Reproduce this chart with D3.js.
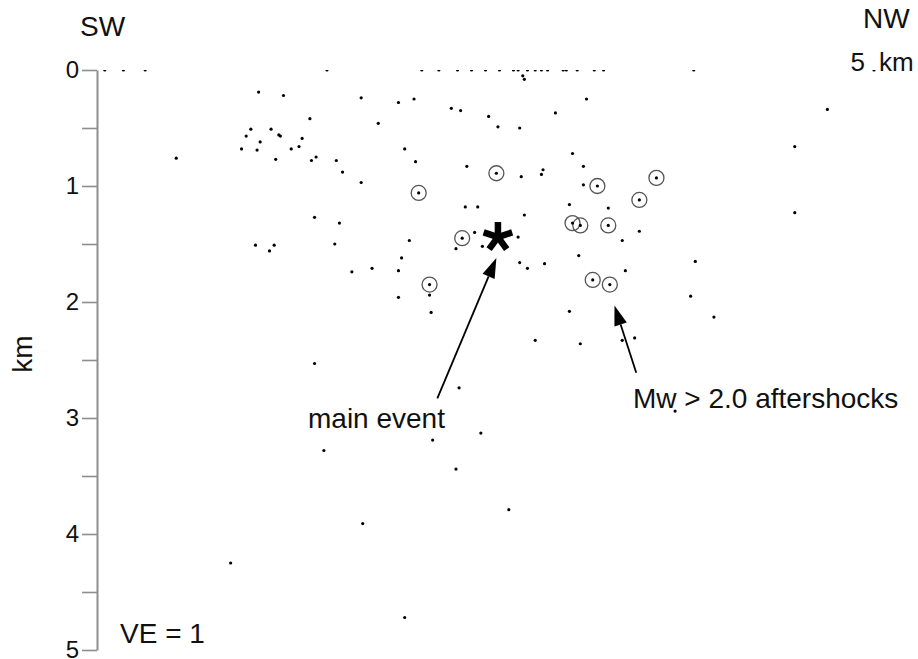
<!DOCTYPE html>
<html>
<head>
<meta charset="utf-8">
<script src="https://cdn.jsdelivr.net/npm/d3@7"></script>
<style>
	body { margin: 0; background: #fff; }
	svg { display: block; font-family: "Liberation Sans", Arial, Helvetica, sans-serif; }
</style>
</head>
<body>
<svg id="section" width="918" height="659"></svg>
<script>
// distance along profile (km, SW -> NW) for events located at the surface
const surfaceEvents = [0.05, 0.17, 0.31, 1.48, 2.09, 2.20, 2.32, 2.41, 2.50, 2.59, 2.68, 2.71,
	2.77, 2.82, 2.86, 2.90, 3.00, 3.02, 3.09, 3.20, 3.26, 3.84, 5.00];

// [distance km, depth km]
const aftershocks = [
	[2.74, 0.05], [2.75, 0.08],
	[0.51, 0.76], [1.04, 0.19], [1.20, 0.22], [1.37, 0.42], [0.99, 0.51], [1.12, 0.51],
	[1.17, 0.56], [1.18, 0.57], [0.96, 0.57], [1.05, 0.62], [1.32, 0.59], [0.93, 0.68],
	[1.03, 0.69], [1.15, 0.77], [1.25, 0.68], [1.30, 0.66], [1.38, 0.78], [1.41, 0.75],
	[1.54, 0.78], [1.58, 0.88], [1.40, 1.27], [1.70, 0.24], [1.94, 0.28], [2.04, 0.25],
	[2.28, 0.33], [2.34, 0.35], [2.52, 0.40], [2.95, 0.37], [3.15, 0.25], [1.81, 0.46],
	[2.58, 0.49], [2.72, 0.50], [1.98, 0.68], [3.06, 0.72], [2.05, 0.79], [2.38, 0.83],
	[3.13, 0.83], [1.70, 0.97], [2.73, 0.92], [2.86, 0.90], [2.87, 0.86], [3.13, 0.99],
	[3.04, 1.16], [2.37, 1.18], [2.45, 1.18], [2.75, 1.25], [3.29, 1.19], [4.70, 0.34],
	[4.49, 0.66], [4.49, 1.23], [1.56, 1.32], [1.02, 1.51], [1.11, 1.56], [1.14, 1.51],
	[1.53, 1.50], [1.64, 1.74], [1.77, 1.71], [1.94, 1.73], [1.94, 1.96], [1.40, 2.53],
	[3.49, 1.39], [3.38, 1.47], [2.43, 1.40], [2.71, 1.44], [2.31, 1.54], [2.48, 1.52],
	[2.01, 1.47], [1.96, 1.62], [2.72, 1.66], [2.77, 1.71], [2.88, 1.67], [3.10, 1.60],
	[3.85, 1.65], [2.14, 1.94], [2.15, 2.09], [3.40, 1.73], [3.82, 1.95], [3.04, 2.08],
	[2.82, 2.33], [3.11, 2.36], [3.38, 2.33], [3.46, 2.31], [2.33, 2.74], [3.72, 2.94],
	[3.97, 2.13], [1.46, 3.28], [2.16, 3.19], [2.47, 3.13], [2.31, 3.44], [2.65, 3.79],
	[1.71, 3.91], [0.86, 4.25], [1.98, 4.72]
];

// Mw > 2.0 aftershocks
const largeAftershocks = [
	[2.07, 1.06], [2.57, 0.89], [3.22, 1.00], [3.60, 0.93], [3.49, 1.12], [3.06, 1.32],
	[3.11, 1.34], [3.29, 1.34], [2.35, 1.45], [2.14, 1.85], [3.19, 1.81], [3.30, 1.85]
];

const mainEvent = [2.58, 1.44];
const depthTicks = [0, 0.5, 1, 1.5, 2, 2.5, 3, 3.5, 4, 4.5, 5];

const svg = d3.select("#section");
const x = d3.scaleLinear().domain([0, 5]).range([97, 874]);
const y = d3.scaleLinear().domain([0, 5]).range([70, 650]);

svg.append("defs").append("clipPath")
	.attr("id", "below-surface")
	.append("rect")
	.attr("x", 97)
	.attr("y", y(0))
	.attr("width", 918 - 97)
	.attr("height", 659 - y(0));

// depth axis
const axis = svg.append("g")
	.attr("transform", `translate(${x(0)},0)`)
	.call(d3.axisLeft(y)
		.tickValues(depthTicks)
		.tickSize(15)
		.tickSizeOuter(0)
		.tickPadding(3)
		.tickFormat(d => Number.isInteger(d) ? d : ""));
axis.select(".domain")
	.attr("stroke", "#8e8e8e")
	.attr("stroke-width", 2);
axis.selectAll(".tick line")
	.attr("stroke", "#8e8e8e")
	.attr("stroke-width", 1.6);
axis.selectAll(".tick text")
	.attr("font-size", 24)
	.attr("font-family", "Liberation Sans, Arial, sans-serif")
	.attr("fill", "#111");

const dots = svg.append("g").attr("clip-path", "url(#below-surface)");

dots.selectAll(".surf")
	.data(surfaceEvents)
	.join("circle")
	.attr("class", "surf")
	.attr("cx", d => x(d))
	.attr("cy", y(0))
	.attr("r", 1.6)
	.attr("fill", "#000");

dots.selectAll(".ev")
	.data(aftershocks)
	.join("circle")
	.attr("class", "ev")
	.attr("cx", d => x(d[0]))
	.attr("cy", d => y(d[1]))
	.attr("r", 1.6)
	.attr("fill", "#000");

const big = svg.append("g");
big.selectAll(".ring")
	.data(largeAftershocks)
	.join("circle")
	.attr("class", "ring")
	.attr("cx", d => x(d[0]))
	.attr("cy", d => y(d[1]))
	.attr("r", 7.5)
	.attr("fill", "none")
	.attr("stroke", "#555")
	.attr("stroke-width", 1.3);
big.selectAll(".core")
	.data(largeAftershocks)
	.join("circle")
	.attr("class", "core")
	.attr("cx", d => x(d[0]))
	.attr("cy", d => y(d[1]))
	.attr("r", 1.6)
	.attr("fill", "#000");

// main event: five armed asterisk
const star = svg.append("g")
	.attr("transform", `translate(${x(mainEvent[0])},${y(mainEvent[1])})`);
star.selectAll("line")
	.data(d3.range(5))
	.join("line")
	.attr("x1", 0)
	.attr("y1", 0)
	.attr("x2", k => 15 * Math.cos((-90 + k * 72) * Math.PI / 180))
	.attr("y2", k => 15 * Math.sin((-90 + k * 72) * Math.PI / 180))
	.attr("stroke", "#000")
	.attr("stroke-width", 6.5);

function arrow(from, to) {
	const x1 = x(from[0]), y1 = y(from[1]);
	const x2 = x(to[0]), y2 = y(to[1]);
	const a = Math.atan2(y2 - y1, x2 - x1);
	const len = 20, half = 6.5;
	const bx = x2 - len * Math.cos(a), by = y2 - len * Math.sin(a);
	svg.append("line")
		.attr("x1", x1)
		.attr("y1", y1)
		.attr("x2", bx)
		.attr("y2", by)
		.attr("stroke", "#000")
		.attr("stroke-width", 1.8);
	svg.append("polygon")
		.attr("points", [
			[x2, y2],
			[bx + half * Math.sin(a), by - half * Math.cos(a)],
			[bx - half * Math.sin(a), by + half * Math.cos(a)]
		].map(p => p.join(",")).join(" "))
		.attr("fill", "#000");
}
arrow([2.19, 2.83], [2.57, 1.62]);
arrow([3.47, 2.61], [3.33, 2.03]);

const label = (tx, ty, text, size, anchor) => svg.append("text")
	.attr("x", tx)
	.attr("y", ty)
	.attr("font-size", size)
	.attr("text-anchor", anchor || "start")
	.attr("fill", "#111")
	.text(text);

label(80, 36, "SW", 28);
label(863, 28, "NW", 28);
label(x(5) - 9, 71, "5", 26, "end");
label(x(5) + 5, 71, "km", 26);
label(120, 643, "VE = 1", 28);
label(308, 428, "main event", 28);
label(633, 408, "Mw > 2.0 aftershocks", 28);

svg.append("text")
	.attr("transform", "translate(32,354) rotate(-90)")
	.attr("text-anchor", "middle")
	.attr("font-size", 28)
	.attr("fill", "#111")
	.text("km");
</script>
</body>
</html>
